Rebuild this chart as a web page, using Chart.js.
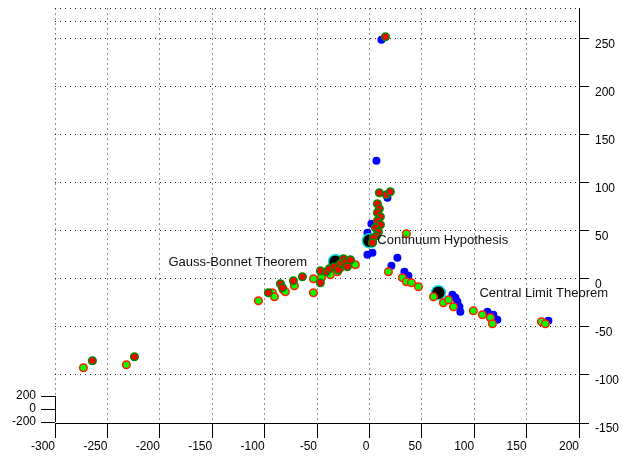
<!DOCTYPE html>
<html><head><meta charset="utf-8">
<script src="https://cdn.jsdelivr.net/npm/chart.js@4/dist/chart.umd.min.js"></script>
<style>html,body{margin:0;padding:0;background:#fff}#wrap{width:639px;height:458px}</style>
</head><body><div id="wrap"><canvas id="c" width="639" height="458"></canvas></div>
<script>
const xTicks = [-300,-250,-200,-150,-100,-50,0,50,100,150,200];
const yTicks = [-150,-100,-50,0,50,100,150,200,250];
const yExtraGrid = [267, 281];
const zTicks = [200, 0, -200];

const blueX = [11.5,6.7,17.2,1.9,-1.9,-1.9,2.9,26.7,21.0,33.4,37.2,79.2,82.1,84.0,85.9,86.8,112.6,118.3,122.1,170.8];
const blueY = [248.4,122.7,84.2,57.2,47.8,24.9,27.0,21.8,13.5,7.3,3.1,-16.6,-19.8,-23.9,-29.1,-34.3,-34.3,-37.4,-42.6,-43.7];

const redX = [15.3,9.5,16.2,20.0,7.6,9.5,7.6,10.5,7.6,10.5,5.7,8.6,6.7,3.8,2.9,
  -96.4,-84.9,-83.0,-72.5,-63.9,-46.8,-46.8,-41.0,-38.2,-33.4,-27.7,-24.8,-22.9,-18.1,-29.6,-21.0,
  -264.3,-224.2];
const redY = [251.6,89.4,87.3,90.4,78.0,72.8,68.6,64.4,60.3,56.1,53.0,48.9,44.7,42.6,37.4,
  -14.6,-5.2,-9.4,-2.1,2.1,8.3,-4.2,7.3,10.4,12.5,15.6,20.8,17.7,19.8,9.4,12.5,
  -85.2,-81.1];

const greenX = [35.3,18.1,31.5,35.3,40.1,46.8,
  61.1,70.6,75.4,80.2,99.2,107.8,115.5,117.4,164.1,167.9,
  -105.9,-92.6,-90.6,-82.1,-80.2,-71.6,-53.4,-53.4,-45.8,-37.2,-30.5,-27.7,-22.9,-18.1,-13.4,
  -272.9,-231.9];
const greenY = [46.8,7.3,1.0,-3.1,-4.2,-8.3,
  -18.7,-24.9,-21.8,-29.1,-33.3,-37.4,-40.5,-46.8,-44.7,-46.8,
  -22.9,-14.6,-18.7,-11.4,-13.5,-7.3,0,-14.6,1.0,4.2,7.3,11.4,14.6,16.6,14.6,
  -92.5,-89.4];

const centerX = [0,65.8,-32.4];
const centerY = [39.5,-14.6,17.7];

const labelTexts = ['Continuum Hypothesis','Gauss-Bonnet Theorem','Central Limit Theorem'];
const labelX = [7.6,-191.8,105];
const labelY = [39.5,16.6,-15.6];

const pts = (xs, ys) => xs.map((v,i)=>({x:v, y:ys[i]}));
const FONT = {family:'Liberation Sans', size:12};

const annot = {
  id:'annot',
  afterDatasetsDraw(chart){
    const {ctx, chartArea, scales:{x,y}} = chart;
    ctx.save();
    ctx.font = '13px "Liberation Sans"';
    ctx.fillStyle = '#111';
    ctx.textBaseline = 'middle';
    ctx.textAlign = 'left';
    labelTexts.forEach((t,i)=>ctx.fillText(t, x.getPixelForValue(labelX[i]), y.getPixelForValue(labelY[i])));
    // small z axis at lower left
    ctx.font = '12px "Liberation Sans"';
    const zx = chartArea.left, zb = chartArea.bottom - 1, zlen = 26;
    const zPix = v => zb - (v - zTicks[2]) / (zTicks[0] - zTicks[2]) * zlen;
    ctx.strokeStyle = '#000'; ctx.lineWidth = 1;
    ctx.beginPath();
    ctx.moveTo(zx + 0.5, zPix(zTicks[0])); ctx.lineTo(zx + 0.5, zb);
    zTicks.forEach(v => { const p = Math.round(zPix(v)) + 0.5; ctx.moveTo(zx - 14, p); ctx.lineTo(zx, p); });
    ctx.stroke();
    ctx.fillStyle = '#000';
    ctx.textAlign = 'right';
    zTicks.forEach(v => ctx.fillText(String(v), zx - 19, zPix(v)));
    ctx.restore();
  }
};

new Chart(document.getElementById('c'), {
  type:'scatter',
  data:{datasets:[
    {label:'red', data:pts(redX,redY), pointRadius:3.8, pointBorderWidth:1.5, pointBackgroundColor:'#ff0000', pointBorderColor:'#008a00', order:2},
    {label:'green', data:pts(greenX,greenY), pointRadius:3.8, pointBorderWidth:1.5, pointBackgroundColor:'#00ff00', pointBorderColor:'#ff2000', order:3},
    {label:'center', data:pts(centerX,centerY), pointRadius:7, pointBorderWidth:1.5, pointBackgroundColor:'#000000', pointBorderColor:'#00e0e0', order:4},
    {label:'blue', data:pts(blueX,blueY), pointRadius:4, pointBorderWidth:0, pointBackgroundColor:'#0000ff', pointBorderColor:'#0000ff', order:5}
  ]},
  options:{
    responsive:false, animation:false, events:[],
    layout:{padding:{left:55, top:8, right:0, bottom:0}},
    plugins:{legend:{display:false}, tooltip:{enabled:false}},
    scales:{
      x:{type:'linear', position:'bottom', min:-300, max:200,
        afterBuildTicks: s => { s.ticks = xTicks.map(v=>({value:v})); },
        afterFit: s => { s.height = 35; },
        ticks:{color:'#000', font:FONT, padding:1, align:'end', maxRotation:0, autoSkip:false, callback: v => String(v)},
        grid:{color:'#222', lineWidth:1, tickLength:15, tickColor:'#000', tickWidth:1},
        border:{display:true, color:'#000', width:1, dash:[1,4]}
      },
      y:{type:'linear', position:'right', min:-150, max:281,
        afterBuildTicks: s => { s.ticks = yTicks.concat(yExtraGrid).map(v=>({value:v})); },
        afterFit: s => { s.width = 60; },
        ticks:{color:'#000', font:FONT, padding:6, align:'start', autoSkip:false, callback: v => yTicks.includes(v) ? String(v) : ''},
        grid:{color:'#222', lineWidth:1, tickLength:10, tickWidth:1,
          tickColor: c => (c.tick && yTicks.includes(c.tick.value)) ? '#000' : 'rgba(0,0,0,0)'},
        border:{display:true, color:'#000', width:1, dash:[1,4]}
      }
    }
  },
  plugins:[annot]
});
</script></body></html>
